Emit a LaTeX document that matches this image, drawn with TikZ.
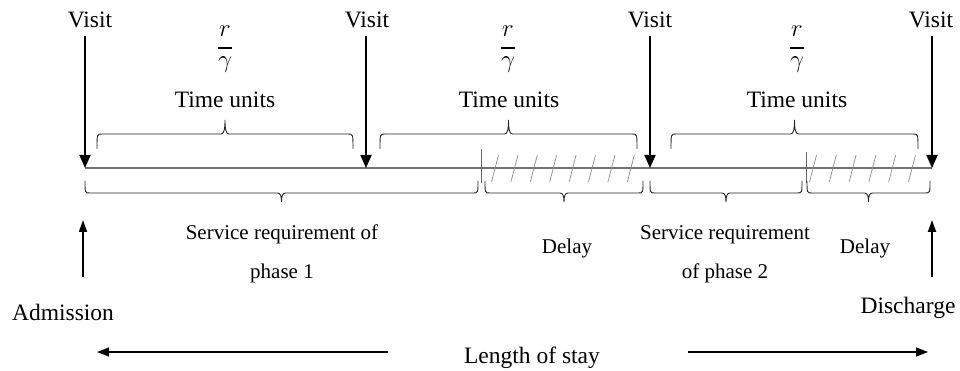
\documentclass[tikz,border=0pt]{standalone}
\usepackage{fontspec}
\setmainfont{Liberation Serif}
\usetikzlibrary{arrows.meta}
% custom flat brace: x1, x2, y at ends, y of horizontal part, y of tip
\newcommand{\mybrace}[5]{%
  \pgfmathsetmacro{\bm}{(#1+#2)/2}%
  \pgfmathsetmacro{\bq}{#4+(#5-#4)*0.35}%
  \draw[bracestyle] (#1,#3) .. controls (#1,#4) and (#1,#4) .. ({#1+5},#4)
    -- ({\bm-4},#4) .. controls ({\bm-1},#4) and (\bm,\bq) .. (\bm,#5)
    .. controls (\bm,\bq) and ({\bm+1},#4) .. ({\bm+4},#4)
    -- ({#2-5},#4) .. controls (#2,#4) and (#2,#4) .. (#2,#3);}
\begin{document}
\begin{tikzpicture}[x=1pt,y=-1pt,
  big/.style={font=\fontsize{23.5}{28}\selectfont, inner sep=0pt},
  mathbig/.style={font=\fontsize{27}{30}\selectfont, inner sep=0pt},
  small/.style={font=\fontsize{21}{39}\selectfont, inner sep=0pt, align=center},
  visitarrow/.style={line width=1.8pt, -{Triangle[length=13pt,width=11pt]}},
  uparrow/.style={line width=1.8pt, -{Triangle[length=12pt,width=8pt]}},
  stayarrow/.style={line width=1.6pt, -{Triangle[length=12pt,width=9pt]}},
  timeline/.style={draw=black!55, line width=1.3pt},
  fracbar/.style={line width=2pt},
  bracestyle/.style={line width=0.9pt, draw=black!85},
  hatch/.style={draw=black!45, line width=0.7pt},
  divider/.style={draw=black!60, line width=1pt},
]
\useasboundingbox (0,0) rectangle (960,371);

% timeline points
\coordinate (p1) at (85,168);
\coordinate (p2) at (366,168);
\coordinate (p3) at (650,168);
\coordinate (p4) at (932,168);

% timeline
\draw[timeline] (p1) -- (p4);

% hatched delay zones
\draw[divider] (481,149) -- (481,183);
\draw[divider] (806,152) -- (806,183);
\foreach \c in {0,...,7} {
  \draw[hatch] ({495+19.4*\c-3.5},182) -- ({495+19.4*\c+3.5},155);
}
\foreach \c in {0,...,5} {
  \draw[hatch] ({813+19.8*\c-3.5},182) -- ({813+19.8*\c+3.5},155);
}

% visits
\node[big, anchor=base] (v1) at (90,28) {Visit};
\node[big, anchor=base] (v2) at (367,28) {Visit};
\node[big, anchor=base] (v3) at (650,28) {Visit};
\node[big, anchor=base] (v4) at (931,28) {Visit};
\draw[visitarrow] (p1 |- 0,36) -- (p1);
\draw[visitarrow] (p2 |- 0,36) -- (p2);
\draw[visitarrow] (p3 |- 0,36) -- (p3);
\draw[visitarrow] (p4 |- 0,36) -- (p4);

% fractions r / gamma
\foreach \x/\n in {225/a,508/b,797/c} {
  \node[mathbig] (r\n) at (\x,31) {$r$};
  \node[mathbig] (g\n) at (\x,65) {$\gamma$};
  \draw[fracbar] (\x-7,48) -- (\x+7,48);
}

% time units labels
\node[big, anchor=base] (tu1) at (225,108) {Time units};
\node[big, anchor=base] (tu2) at (509,108) {Time units};
\node[big, anchor=base] (tu3) at (797,108) {Time units};

% top braces
\mybrace{97}{353}{149}{134}{120}
\mybrace{380}{637}{149}{134}{120}
\mybrace{671}{918}{149}{134}{120}

% bottom braces
\mybrace{85}{478}{181}{193}{202}
\mybrace{485}{643}{181}{193}{202}
\mybrace{650}{802}{181}{193}{202}
\mybrace{807}{930}{181}{193}{202}

% bottom labels
\node[small] (s1) at (282,254) {Service requirement of\\phase 1};
\node[small, anchor=base] (dl1) at (567,253) {Delay};
\node[small] (s2) at (725,254) {Service requirement\\of phase 2};
\node[small, anchor=base] (dl2) at (865,253) {Delay};

% admission / discharge
\node[big, anchor=base] (adm) at (63,320) {Admission};
\node[big, anchor=base] (dis) at (908,313) {Discharge};
\coordinate (a0) at (83,277);
\coordinate (a1) at (83,220);
\coordinate (b0) at (932,277);
\coordinate (b1) at (932,220);
\draw[uparrow] (a0) -- (a1);
\draw[uparrow] (b0) -- (b1);

% length of stay
\node[big, anchor=base] (los) at (532,363) {Length of stay};
\coordinate (l0) at (388,352);
\coordinate (l1) at (97,352);
\coordinate (r0) at (688,352);
\coordinate (r1) at (928,352);
\draw[stayarrow] (l0) -- (l1);
\draw[stayarrow] (r0) -- (r1);
\end{tikzpicture}
\end{document}
